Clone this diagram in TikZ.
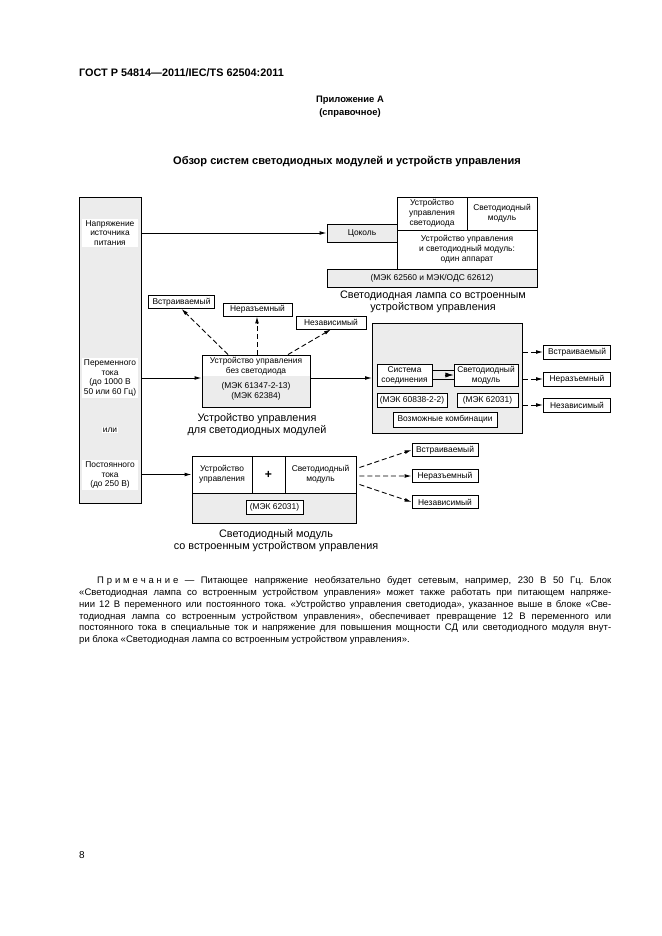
\documentclass[tikz,border=0pt]{standalone}
\usepackage{fontspec}
\setmainfont{Liberation Sans}
\usetikzlibrary{arrows.meta,calc}

\newlength\unitpx
\setlength\unitpx{0.3177mm}
\definecolor{panel}{gray}{0.925}
\newcommand\boxfont{\fontsize{7.6}{8.9}\selectfont}
\newcommand\capfont{\fontsize{9.8}{10.8}\selectfont}

\tikzset{
  cell/.style={draw, line width=0.7pt, fill=white, align=center, inner sep=0pt, font=\boxfont},
  greycell/.style={cell, fill=panel},
  sz/.style 2 args={minimum width=#1*\unitpx, minimum height=#2*\unitpx},
  srctext/.style={fill=white, align=center, inner sep=1pt, font=\boxfont},
  caption/.style={align=center, inner sep=0pt, font=\capfont},
  feed/.style={line width=0.8pt, -{Latex[length=2.2mm,width=1.2mm]}},
  variant/.style={feed, dash pattern=on 1.6mm off 0.9mm}
}

\begin{document}
\begin{tikzpicture}[x=\unitpx,y=-\unitpx]
\useasboundingbox (0,0) rectangle (661,936);

% page head
\node[anchor=west, inner sep=0pt, font=\fontsize{9.8}{12}\selectfont\bfseries] (doc) at (79,73) {ГОСТ Р 54814—2011/IEC/TS 62504:2011};
\node[inner sep=0pt, font=\fontsize{8.5}{10}\selectfont\bfseries] (annex) at (350,100) {Приложение А};
\node[inner sep=0pt, font=\fontsize{8.5}{10}\selectfont\bfseries] (annexkind) at (350,113) {(справочное)};
\node[inner sep=0pt, font=\fontsize{10}{12}\selectfont\bfseries] (title) at (347,162) {Обзор систем светодиодных модулей и устройств управления};

% supply column
\node[greycell, line width=0.8pt, sz={62}{306}] (src) at (110,350.5) {};
\node[srctext, minimum width=56*\unitpx] (srcmain) at (110,233) {Напряжение\\источника\\питания};
\node[srctext, minimum width=56*\unitpx] (srcac) at (110,378) {Переменного\\тока\\(до 1000 В\\50 или 60 Гц)};
\node[srctext] (srcor) at (110,430) {или};
\node[srctext, minimum width=56*\unitpx] (srcdc) at (110,475) {Постоянного\\тока\\(до 250 В)};

% lamp with integral gear
\node[greycell, sz={70}{18}] (socket) at (362,233) {Цоколь};
\node[cell, sz={70}{33}] (drv) at (432,213.5) {Устройство\\управления\\светодиода};
\node[cell, sz={70}{33}] (ledmod) at (502,213.5) {Светодиодный\\модуль};
\node[cell, sz={140}{39}] (unit) at (467,249.5) {Устройство управления\\и светодиодный модуль:\\один аппарат};
\node[greycell, sz={210}{18}] (lampstd) at (432,278) {(МЭК 62560 и МЭК/ОДС 62612)};
\node[caption] (lampcap) at (433,302) {Светодиодная лампа со встроенным\\устройством управления};

% control gear without LED
\node[greycell, draw=none, sz={108}{31}] (gearstd) at (256,391.5) {(МЭК 61347-2-13)\\(МЭК 62384)};
\node[draw, line width=0.8pt, inner sep=0pt, sz={108}{52}] (gear) at (256,381) {};
\node[inner sep=0pt, align=center, font=\boxfont] (geartop) at (256,366) {Устройство управления\\без светодиода};
\node[caption] (gearcap) at (257,425) {Устройство управления\\для светодиодных модулей};

\node[cell, sz={66}{13}] (upa) at (181.5,302) {Встраиваемый};
\node[cell, sz={69}{13}] (upb) at (257.5,309.5) {Неразъемный};
\node[cell, sz={70}{13}] (upc) at (331,322.5) {Независимый};
\draw[variant] ($(gear.north)+(-28,0)$) -- (upa.south);
\draw[variant] ($(gear.north)+(1,0)$) -- (upb.south -| {$(gear.north)+(1,0)$});
\draw[variant] ($(gear.north)+(32,0)$) -- (upc.south);

% possible combinations
\node[greycell, line width=0.8pt, sz={150}{110}] (combo) at (447.5,378.5) {};
\node[cell, sz={55}{22}] (conn) at (404.5,375) {Система\\соединения};
\node[cell, sz={64}{22}] (combomod) at (486,375) {Светодиодный\\модуль};
\draw[line width=0.7pt] ($(conn.east)+(0,-4.5)$) -- ($(combomod.west)+(0,-4.5)$);
\draw[line width=0.7pt] ($(conn.east)+(0,4.5)$) -- ($(combomod.west)+(0,4.5)$);
\draw[line width=0.7pt, -{Latex[length=2.6mm,width=1.6mm]}] ($(combomod.west)+(-9,0)$) -- (combomod.west);
\node[cell, sz={70}{14}] (combostd) at (412,400) {(МЭК 60838-2-2)};
\node[cell, sz={61}{14}] (combostdb) at (487.5,400) {(МЭК 62031)};
\node[cell, sz={104}{15}] (combos) at (445,419.5) {Возможные комбинации};

\node[cell, sz={67}{14}] (rta) at (577,352) {Встраиваемый};
\node[cell, sz={67}{14}] (rtb) at (577,379) {Неразъемный};
\node[cell, sz={67}{14}] (rtc) at (577,405) {Независимый};
\draw[variant] (combo.east |- rta) -- (rta.west);
\draw[variant] (combo.east |- rtb) -- (rtb.west);
\draw[variant] (combo.east |- rtc) -- (rtc.west);

% LED module with integral gear
\node[cell, line width=0.8pt, sz={60}{37}] (bmdrv) at (222,474.5) {Устройство\\управления};
\node[cell, line width=0.8pt, sz={33}{37}, font=\fontsize{11}{11}\selectfont\bfseries] (bmplus) at (268.5,474.5) {+};
\node[cell, line width=0.8pt, sz={71}{37}] (bmmod) at (320.5,474.5) {Светодиодный\\модуль};
\node[greycell, line width=0.8pt, sz={164}{30}] (bmrow) at (274,508) {};
\node[cell, sz={57}{14}] (bmstd) at (274.5,507) {(МЭК 62031)};
\node[caption] (bmcap) at (276,541) {Светодиодный модуль\\со встроенным устройством управления};

\node[cell, sz={66}{13}] (bta) at (445,450) {Встраиваемый};
\node[cell, sz={66}{13}] (btb) at (445,476) {Неразъемный};
\node[cell, sz={66}{13}] (btc) at (445,502) {Независимый};
\draw[variant] ($(bmmod.east)+(3,-7)$) -- (bta.west);
\draw[variant] ($(bmmod.east)+(3,1.5)$) -- (btb.west);
\draw[variant] ($(bmmod.east)+(3,10)$) -- (btc.west);

% supply feeds
\draw[feed] (src.east |- srcmain) -- (socket.west);
\draw[feed] (src.east |- srcac) -- (gear.west |- srcac);
\draw[feed] (gear.east |- srcac) -- (combo.west |- srcac);
\draw[feed] (src.east |- bmdrv) -- (bmdrv.west);

% note
\node[anchor=north west, inner sep=0pt, text width=532*\unitpx, align=justify,
      font=\fontsize{8.6}{10.8}\selectfont] (note) at (79,576)
  {\frenchspacing\tolerance=10000\hspace*{18\unitpx}П\kern.3em р\kern.3em и\kern.3em м\kern.3em е\kern.3em ч\kern.3em а\kern.3em н\kern.3em и\kern.3em е — Питающее напряжение необязательно будет сетевым, например, 230 В 50 Гц. Блок\linebreak
   «Светодиодная лампа со встроенным устройством управления» может также работать при питающем напряже-\linebreak
   нии 12 В переменного или постоянного тока. «Устройство управления светодиода», указанное выше в блоке «Све-\linebreak
   тодиодная лампа со встроенным устройством управления», обеспечивает превращение 12 В переменного или\linebreak
   постоянного тока в специальные ток и напряжение для повышения мощности СД или светодиодного модуля внут-\linebreak
   ри блока «Светодиодная лампа со встроенным устройством управления».};

\node[inner sep=0pt, font=\fontsize{9}{10}\selectfont] (pageno) at (82,855) {8};
\end{tikzpicture}
\end{document}
